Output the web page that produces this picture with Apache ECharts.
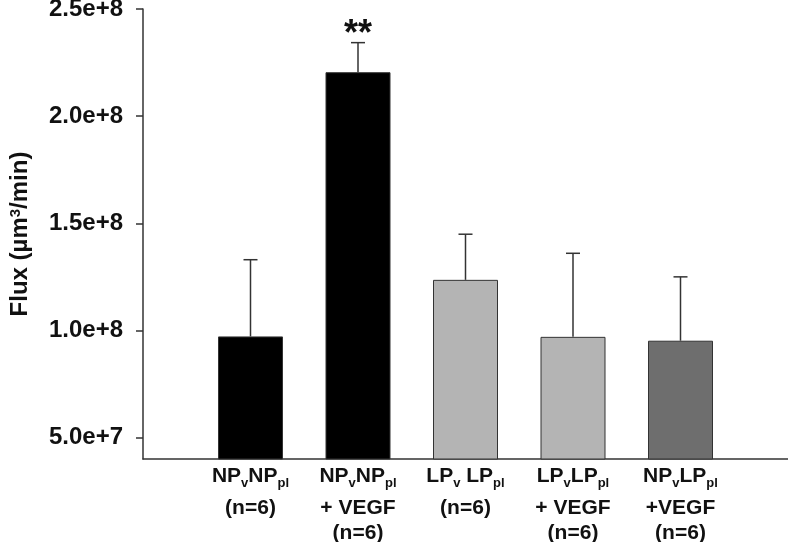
<!DOCTYPE html>
<html>
<head>
<meta charset="utf-8">
<script src="https://cdn.jsdelivr.net/npm/echarts@6/dist/echarts.min.js"></script>
<style>
html,body{margin:0;padding:0;background:#fff;}
#chart{width:788px;height:542px;}
</style>
</head>
<body>
<div id="chart"></div>
<script>
// ---- data ----
const categories = [
  '{m|NP}{s|v}{m|NP}{s|pl}{h|\u200b}\n(n=6)',
  '{m|NP}{s|v}{m|NP}{s|pl}{h|\u200b}\n+ VEGF\n(n=6)',
  '{m|LP}{s|v}{m| LP}{s|pl}{h|\u200b}\n(n=6)',
  '{m|LP}{s|v}{m|LP}{s|pl}{h|\u200b}\n+ VEGF\n(n=6)',
  '{m|NP}{s|v}{m|LP}{s|pl}{h|\u200b}\n+VEGF\n(n=6)'
];
const fluxMean = [9.72e7, 2.205e8, 1.236e8, 9.7e7, 9.52e7];
const fluxErrTop = [1.33e8, 2.343e8, 1.449e8, 1.36e8, 1.25e8];
const sigMarks = ['', '**', '', '', ''];
const barColors = ['#000000', '#000000', '#b4b4b4', '#b4b4b4', '#6e6e6e'];
const yTicks = [5e7, 1e8, 1.5e8, 2e8, 2.5e8];
const yMin = 4e7, yMax = 2.5e8;
const yTitle = 'Flux (µm{sup|3}/min)';

// category axis with blank end slots (bars sit on tick points)
const axisCats = [''].concat(categories, ['']);
const barData = [null].concat(fluxMean.map((v, i) => ({
  value: v, itemStyle: { color: barColors[i] }
})), [null]);
const errData = fluxMean.map((v, i) => [i + 1, v, fluxErrTop[i], sigMarks[i]]);

const FONT = '"Liberation Sans", Arial, sans-serif';
const base = { fontFamily: FONT, fontWeight: 'bold', color: '#111' };
const chart = echarts.init(document.getElementById('chart'));
chart.setOption({
  animation: false,
  backgroundColor: '#fff',
  grid: { left: 143, right: 0, top: 9, bottom: 83, containLabel: false, outerBoundsMode: 'none' },
  xAxis: {
    type: 'category',
    data: axisCats,
    boundaryGap: false,
    axisLine: { lineStyle: { color: '#333', width: 1.5 } },
    axisTick: { show: false },
    axisLabel: Object.assign({}, base, {
      interval: 0, hideOverlap: false, fontSize: 21,
      lineHeight: 25, margin: 7,
      rich: {
        m: Object.assign({}, base, { fontSize: 21, lineHeight: 25, verticalAlign: 'top' }),
        s: Object.assign({}, base, { fontSize: 13, lineHeight: 23, verticalAlign: 'bottom', padding: [0, 0, 6, 0] }),
        h: Object.assign({}, base, { fontSize: 13, lineHeight: 30, verticalAlign: 'top' })
      }
    }),
    splitLine: { show: false }
  },
  yAxis: {
    type: 'value', min: yMin, max: yMax,
    name: yTitle, nameLocation: 'middle', nameGap: 111,
    nameTextStyle: Object.assign({}, base, {
      fontSize: 24,
      rich: { sup: Object.assign({}, base, { fontSize: 15, verticalAlign: 'top', lineHeight: 16 }) }
    }),
    axisLine: { show: true, lineStyle: { color: '#333', width: 1.5 } },
    axisTick: { show: true, inside: false, length: 7, lineStyle: { color: '#333', width: 1.5 }, customValues: yTicks },
    axisLabel: Object.assign({}, base, {
      customValues: yTicks, margin: 20, fontSize: 24,
      formatter: v => Number(v).toExponential(1)
    }),
    splitLine: { show: false }
  },
  series: [
    {
      type: 'bar', data: barData, barWidth: 65,
      itemStyle: { borderColor: '#333', borderWidth: 1 }
    },
    {
      type: 'custom', data: errData, z: 5,
      encode: { x: 0, y: [1, 2] },
      renderItem: function (params, api) {
        const x = api.value(0);
        const b = api.coord([x, api.value(1)]);
        const top = api.coord([x, api.value(2)]);
        const mark = errData[params.dataIndex][3];
        const children = [
          { type: 'line', shape: { x1: b[0], y1: b[1], x2: top[0], y2: top[1] },
            style: { stroke: '#333', lineWidth: 1.5 } },
          { type: 'line', shape: { x1: top[0] - 7, y1: top[1], x2: top[0] + 7, y2: top[1] },
            style: { stroke: '#333', lineWidth: 1.5 } }
        ];
        if (mark) {
          children.push({ type: 'text', style: {
            text: mark, x: top[0], y: top[1] + 10, align: 'center', verticalAlign: 'bottom',
            font: 'bold 36px ' + FONT, fill: '#111' } });
        }
        return { type: 'group', children: children };
      }
    }
  ]
});
</script>
</body>
</html>
